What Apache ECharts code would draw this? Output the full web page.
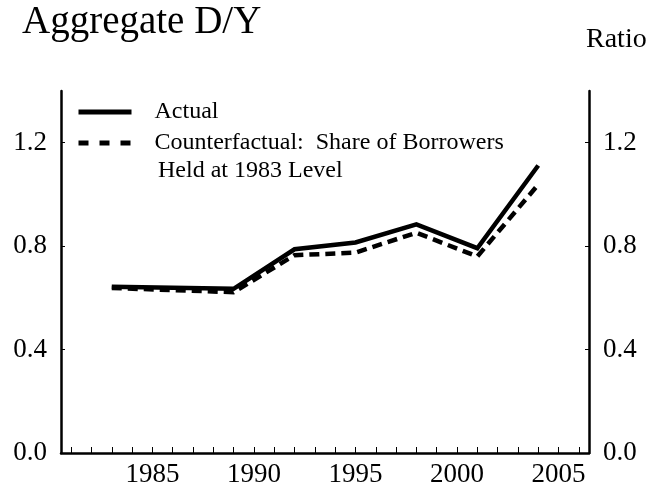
<!DOCTYPE html>
<html lang="en">
<head>
    <meta charset="UTF-8">
    <title>Aggregate D/Y</title>
    <script type="text/javascript" src="https://cdn.jsdelivr.net/npm/echarts@6/dist/echarts.min.js"></script>
    <style>
        html, body { margin: 0; padding: 0; background: #fff; }
    </style>
</head>
<body>
<div id="main" style="width:665px;height:493px;"></div>

<script type="text/javascript">
    // survey years and values
    var years = [1983, 1989, 1992, 1995, 1998, 2001, 2004];
    var actual = [0.643, 0.635, 0.788, 0.814, 0.884, 0.792, 1.112];
    var counterfactual = [0.638, 0.622, 0.765, 0.775, 0.852, 0.760, 1.038];

    // axis ticks / labels
    var tickYears = [1981, 1982, 1983, 1984, 1985, 1986, 1987, 1988, 1989, 1990, 1991, 1992, 1993,
        1994, 1995, 1996, 1997, 1998, 1999, 2000, 2001, 2002, 2003, 2004, 2005, 2006];
    var labelYears = [1985, 1990, 1995, 2000, 2005];
    var ratioTicks = [0, 0.4, 0.8, 1.2];

    var font = 'Liberation Serif, Times New Roman, serif';

    function pairs(xs, ys) {
        var out = [];
        for (var i = 0; i < xs.length; i++) {
            out.push([xs[i], ys[i]]);
        }
        return out;
    }

    function ratioAxis(pos) {
        return {
            type: 'value',
            position: pos,
            min: 0,
            max: 1.4,
            axisLine: { show: true, lineStyle: { color: '#000', width: 2.5 } },
            axisTick: { show: true, inside: true, length: 4, customValues: ratioTicks, lineStyle: { color: '#000', width: 1 } },
            axisLabel: {
                customValues: ratioTicks,
                margin: 14,
                color: '#000',
                fontFamily: font,
                fontSize: 27,
                formatter: function (v) { return v.toFixed(1); }
            },
            splitLine: { show: false }
        };
    }

    var chart = echarts.init(document.getElementById('main'));

    var option = {
        backgroundColor: '#fff',
        animation: false,
        title: [{
            text: 'Aggregate D/Y',
            left: 22,
            top: 3,
            padding: 0,
            textStyle: { fontFamily: font, fontSize: 39, fontWeight: 'normal', color: '#000' }
        }, {
            text: 'Ratio',
            left: 586,
            top: 26,
            padding: 0,
            textStyle: { fontFamily: font, fontSize: 28, fontWeight: 'normal', color: '#000' }
        }],
        legend: {
            orient: 'vertical',
            left: 76,
            top: 100,
            padding: 0,
            itemGap: 7,
            itemWidth: 53,
            itemHeight: 14,
            itemStyle: { opacity: 0 },
            lineStyle: { width: 5, color: '#000' },
            data: [
                { name: 'Actual' },
                { name: 'Counterfactual:  Share of Borrowers', lineStyle: { type: [10, 11] } }
            ],
            textStyle: { fontFamily: font, fontSize: 24, color: '#000', padding: [0, 0, 0, 18] }
        },
        graphic: [{
            type: 'text',
            left: 152,
            top: 159,
            style: { text: ' Held at 1983 Level', font: '24px ' + font, fill: '#000' }
        }],
        grid: {
            left: 61,
            right: 76,
            top: 91,
            bottom: 40,
            containLabel: false
        },
        xAxis: {
            type: 'value',
            min: 1980.5,
            max: 2006.5,
            axisLine: { show: true, lineStyle: { color: '#000', width: 2.5 } },
            axisTick: { show: true, inside: true, length: 6, customValues: tickYears, lineStyle: { color: '#000', width: 1 } },
            axisLabel: {
                customValues: labelYears,
                margin: 8,
                color: '#000',
                fontFamily: font,
                fontSize: 27,
                formatter: function (v) { return String(v); }
            },
            splitLine: { show: false }
        },
        yAxis: [ratioAxis('left'), ratioAxis('right')],
        series: [{
            name: 'Actual',
            type: 'line',
            data: pairs(years, actual),
            symbol: 'none',
            z: 3,
            itemStyle: { color: '#000' },
            lineStyle: { color: '#000', width: 4.5, join: 'miter' }
        }, {
            name: 'Counterfactual:  Share of Borrowers',
            type: 'line',
            data: pairs(years, counterfactual),
            symbol: 'none',
            z: 2,
            itemStyle: { color: '#000' },
            lineStyle: { color: '#000', width: 4.5, type: [10, 6], join: 'miter' }
        }]
    };

    chart.setOption(option);
</script>
</body>
</html>
